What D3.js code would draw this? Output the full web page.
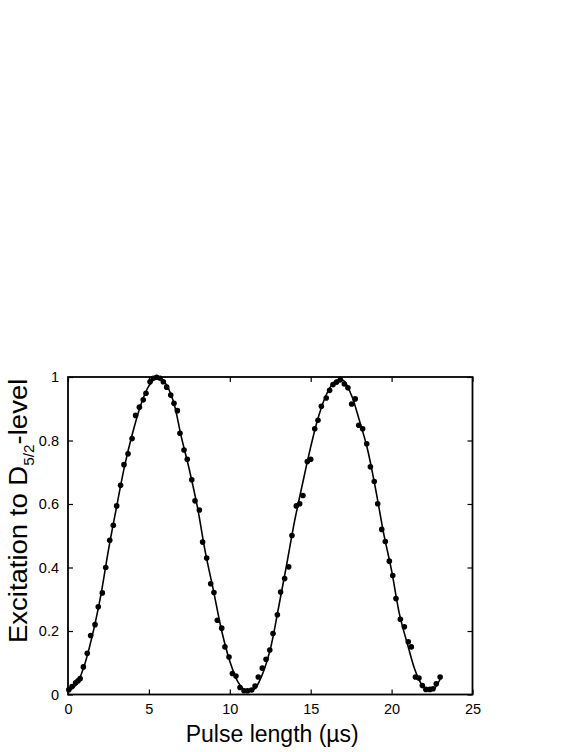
<!DOCTYPE html>
<html>
<head>
<meta charset="utf-8">
<script src="https://cdn.jsdelivr.net/npm/d3@7"></script>
<style>
  html, body { margin: 0; padding: 0; background: #fff; }
  svg { display: block; font-family: "Liberation Sans", Arial, Helvetica, sans-serif; }
</style>
</head>
<body>
<svg id="chart" width="581" height="752"></svg>
<script>
// Measured data points: pulse length (µs)
const pulseLength = [
  0.05, 0.25, 0.47, 0.62, 0.75, 0.95, 1.19, 1.40, 1.67, 1.87,
  2.12, 2.33, 2.58, 2.80, 3.01, 3.25, 3.46, 3.71, 3.96, 4.18,
  4.41, 4.65, 4.82, 5.07, 5.27, 5.48, 5.69, 5.89, 6.10, 6.35,
  6.55, 6.76, 6.92, 7.17, 7.37, 7.65, 7.85, 8.12, 8.32, 8.57,
  8.82, 9.02, 9.23, 9.50, 9.70, 9.95, 10.16, 10.38, 10.63, 10.88,
  11.10, 11.35, 11.56, 11.76, 12.01, 12.24, 12.47, 12.67, 12.94, 13.14,
  13.39, 13.64, 13.84, 14.11, 14.32, 14.52, 14.79, 15.00, 15.25, 15.45,
  15.66, 15.96, 16.17, 16.38, 16.60, 16.83, 17.08, 17.30, 17.53, 17.75,
  17.97, 18.21, 18.46, 18.69, 18.93, 19.14, 19.39, 19.61, 19.86, 20.07,
  20.27, 20.54, 20.79, 21.03, 21.22, 21.47, 21.69, 21.90, 22.12, 22.36,
  22.56, 22.76, 23.00
];
// Measured excitation probability
const excitation = [
  0.015, 0.025, 0.037, 0.043, 0.050, 0.087, 0.130, 0.186, 0.220, 0.276,
  0.320, 0.400, 0.486, 0.533, 0.594, 0.659, 0.724, 0.758, 0.806, 0.879,
  0.905, 0.928, 0.949, 0.985, 0.996, 0.999, 0.996, 0.985, 0.968, 0.943,
  0.917, 0.894, 0.823, 0.770, 0.741, 0.676, 0.610, 0.581, 0.480, 0.430,
  0.349, 0.321, 0.234, 0.209, 0.150, 0.118, 0.066, 0.058, 0.022, 0.012,
  0.012, 0.014, 0.027, 0.055, 0.083, 0.111, 0.140, 0.192, 0.251, 0.323,
  0.365, 0.402, 0.501, 0.594, 0.601, 0.627, 0.734, 0.741, 0.837, 0.864,
  0.908, 0.934, 0.958, 0.976, 0.984, 0.991, 0.978, 0.966, 0.915, 0.931,
  0.848, 0.837, 0.790, 0.717, 0.671, 0.601, 0.520, 0.482, 0.420, 0.375,
  0.302, 0.237, 0.213, 0.166, 0.150, 0.055, 0.052, 0.028, 0.016, 0.016,
  0.018, 0.034, 0.055
];
// Fitted curve
const fitX = [
  0, 0.5, 1, 1.5, 2, 2.5, 3, 3.5, 4, 4.5, 5, 5.5, 6, 6.5, 7, 7.5, 8, 8.5, 9, 9.5,
  10, 10.5, 11, 11.5, 12, 12.5, 13, 13.5, 14, 14.5, 15, 15.5, 16, 16.5, 17, 17.5,
  18, 18.5, 19, 19.5, 20, 20.5, 21, 21.5, 22, 22.5, 23
];
const fitY = [
  0.010, 0.030, 0.090, 0.185, 0.305, 0.455, 0.590, 0.720, 0.825, 0.912, 0.972, 0.998,
  0.982, 0.925, 0.812, 0.708, 0.590, 0.445, 0.325, 0.200, 0.105, 0.040, 0.012, 0.016,
  0.062, 0.142, 0.270, 0.405, 0.545, 0.665, 0.780, 0.878, 0.948, 0.986, 0.990, 0.945,
  0.865, 0.775, 0.650, 0.510, 0.390, 0.250, 0.155, 0.070, 0.022, 0.013, 0.048
];
const xTicks = [0, 5, 10, 15, 20, 25];
const yTicks = [0, 0.2, 0.4, 0.6, 0.8, 1];
const yTickLabels = ["0", "0.2", "0.4", "0.6", "0.8", "1"];

const svg = d3.select("#chart");
const mLeft = 68, mRight = 472.5, mTop = 377, mBottom = 694.5;

const x = d3.scaleLinear().domain([0, 25]).range([mLeft, mRight]);
const y = d3.scaleLinear().domain([0, 1]).range([mBottom, mTop]);

const tickLen = 5;
const fontTick = 14.5;

// fit line
const line = d3.line().x((d, i) => x(fitX[i])).y((d, i) => y(fitY[i])).curve(d3.curveCatmullRom.alpha(0.5));
svg.append("path")
  .datum(fitX)
  .attr("d", line)
  .attr("fill", "none")
  .attr("stroke", "#000")
  .attr("stroke-width", 1.6);

// data points
svg.append("g").selectAll("circle")
  .data(pulseLength)
  .join("circle")
  .attr("cx", d => x(d))
  .attr("cy", (d, i) => y(excitation[i]))
  .attr("r", 2.8)
  .attr("fill", "#000");

// axes with inward ticks
const xAxisBottom = d3.axisBottom(x).tickValues(xTicks).tickSizeInner(-tickLen).tickSizeOuter(0).tickPadding(9).tickFormat(d3.format("d"));
const xAxisTop = d3.axisTop(x).tickValues(xTicks).tickSizeInner(-tickLen).tickSizeOuter(0).tickFormat("");
const yAxisLeft = d3.axisLeft(y).tickValues(yTicks).tickSizeInner(-tickLen).tickSizeOuter(0).tickPadding(9).tickFormat((d, i) => yTickLabels[i]);
const yAxisRight = d3.axisRight(y).tickValues(yTicks).tickSizeInner(-tickLen).tickSizeOuter(0).tickFormat("");

function style(g) {
  g.select(".domain").remove();
  g.selectAll(".tick line").attr("stroke", "#000").attr("stroke-width", 1.2);
  g.selectAll(".tick text").attr("fill", "#000").attr("font-size", fontTick)
    .attr("font-family", "'Liberation Sans', Arial, sans-serif");
}

svg.append("g").attr("transform", `translate(0,${mBottom})`).call(xAxisBottom).call(style);
svg.append("g").attr("transform", `translate(0,${mTop})`).call(xAxisTop).call(style);
svg.append("g").attr("transform", `translate(${mLeft},0)`).call(yAxisLeft).call(style);
svg.append("g").attr("transform", `translate(${mRight},0)`).call(yAxisRight).call(style);

// frame
svg.append("rect")
  .attr("x", mLeft).attr("y", mTop)
  .attr("width", mRight - mLeft).attr("height", mBottom - mTop)
  .attr("fill", "none").attr("stroke", "#000").attr("stroke-width", 1.8);

// x label
svg.append("text")
  .attr("x", (mLeft + mRight) / 2 + 2)
  .attr("y", 742)
  .attr("text-anchor", "middle")
  .attr("font-size", 23)
  .attr("fill", "#000")
  .text("Pulse length (µs)");

// y label
const yl = svg.append("text")
  .attr("transform", "translate(27,643) rotate(-90) scale(1.1,1)")
  .attr("text-anchor", "start")
  .attr("font-size", 25)
  .attr("fill", "#000");
yl.append("tspan").text("Excitation to D");
yl.append("tspan").attr("font-size", 14).attr("dy", 7).text("5/2");
yl.append("tspan").attr("dy", -7).text("-level");
</script>
</body>
</html>
